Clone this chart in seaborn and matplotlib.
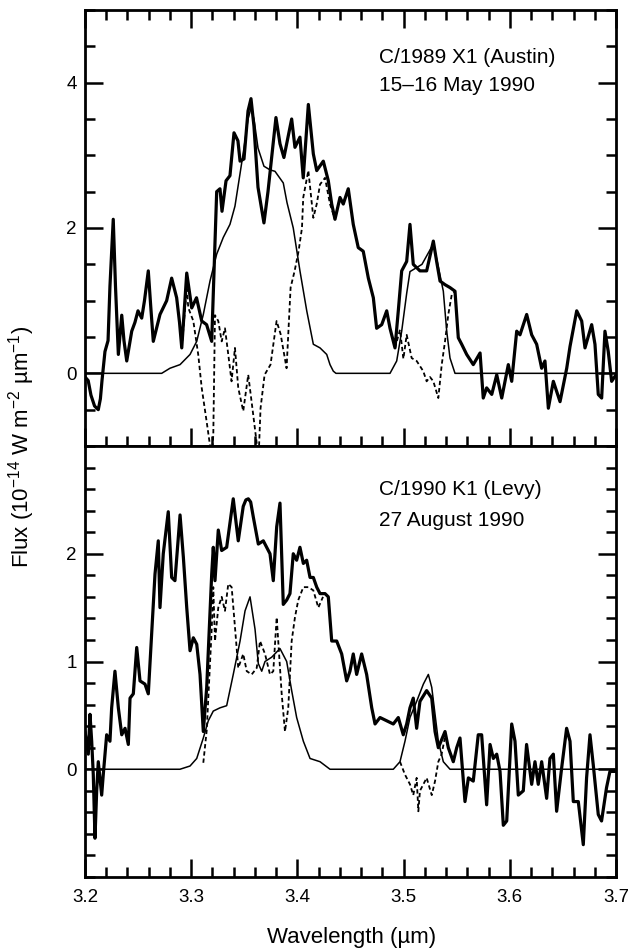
import numpy as np
import pandas as pd
import matplotlib
matplotlib.use("Agg")
import matplotlib.pyplot as plt
from matplotlib.ticker import MultipleLocator, FixedLocator
import seaborn as sns

# ---- Comet Austin (C/1989 X1), 15-16 May 1990 ----
austin_obs_wl = [3.2000, 3.2030, 3.2056, 3.2090, 3.2125, 3.2145, 3.2160, 3.2188, 3.2217, 3.2235,
                 3.2266, 3.2287, 3.2314, 3.2346, 3.2367, 3.2393, 3.2440, 3.2470, 3.2499, 3.2534,
                 3.2560, 3.2596, 3.2620, 3.2643, 3.2670, 3.2706, 3.2769, 3.2800, 3.2816, 3.2863,
                 3.2890, 3.2911, 3.2958, 3.3005, 3.3050, 3.3099, 3.3145, 3.3193, 3.3240, 3.3271,
                 3.3290, 3.3328, 3.3365, 3.3403, 3.3440, 3.3460, 3.3497, 3.3535, 3.3563, 3.3591,
                 3.3629, 3.3685, 3.3723, 3.3798, 3.3836, 3.3873, 3.3946, 3.3977, 3.4024, 3.4055,
                 3.4103, 3.4150, 3.4182, 3.4244, 3.4291, 3.4323, 3.4354, 3.4401, 3.4432, 3.4479,
                 3.4526, 3.4573, 3.4620, 3.4668, 3.4715, 3.4746, 3.4794, 3.4841, 3.4872, 3.4919,
                 3.4950, 3.4982, 3.5029, 3.5060, 3.5091, 3.5154, 3.5217, 3.5280, 3.5311, 3.5343,
                 3.5390, 3.5437, 3.5484, 3.5515, 3.5547, 3.5594, 3.5656, 3.5720, 3.5750, 3.5782,
                 3.5830, 3.5877, 3.5924, 3.5986, 3.6018, 3.6065, 3.6096, 3.6159, 3.6206, 3.6253,
                 3.6300, 3.6331, 3.6363, 3.6410, 3.6473, 3.6536, 3.6567, 3.6630, 3.6677, 3.6708,
                 3.6771, 3.6802, 3.6833, 3.6865, 3.6896, 3.6927, 3.6959, 3.7000]
austin_obs_flux = [-0.05, -0.10, -0.30, -0.45, -0.50, -0.35, -0.10, 0.30, 0.45, 1.20,
                   2.12, 1.20, 0.26, 0.80, 0.45, 0.17, 0.58, 0.70, 0.86, 0.76,
                   1.00, 1.41, 0.90, 0.44, 0.60, 0.81, 1.00, 1.20, 1.31, 1.04,
                   0.70, 0.35, 1.38, 0.90, 1.04, 0.72, 0.67, 0.44, 2.50, 2.54,
                   2.23, 2.65, 2.72, 3.31, 3.20, 2.92, 2.95, 3.61, 3.78, 3.40,
                   2.56, 2.07, 2.50, 3.52, 3.16, 2.97, 3.50, 3.11, 3.25, 2.69,
                   3.70, 3.02, 2.79, 2.92, 2.65, 2.33, 2.12, 2.42, 2.33, 2.54,
                   2.05, 1.73, 1.68, 1.31, 1.04, 0.62, 0.67, 0.86, 0.62, 0.35,
                   0.86, 1.41, 1.54, 2.05, 1.50, 1.41, 1.41, 1.82, 1.54, 1.27,
                   1.22, 1.18, 1.13, 0.49, 0.40, 0.26, 0.12, 0.28, -0.34, -0.20,
                   -0.29, -0.02, -0.34, 0.12, -0.11, 0.58, 0.53, 0.81, 0.53, 0.40,
                   0.07, 0.17, -0.48, -0.11, -0.39, 0.07, 0.37, 0.86, 0.72, 0.35,
                   0.67, 0.40, -0.29, -0.34, 0.58, 0.30, -0.11, -0.02]

austin_model_wl = [3.2000, 3.2722, 3.2800, 3.2895, 3.2989, 3.3052, 3.3114, 3.3177, 3.3240, 3.3302,
                   3.3365, 3.3412, 3.3460, 3.3497, 3.3535, 3.3563, 3.3591, 3.3629, 3.3685, 3.3742,
                   3.3789, 3.3867, 3.3902, 3.3961, 3.4024, 3.4088, 3.4150, 3.4213, 3.4276, 3.4307,
                   3.4338, 3.4363, 3.4872, 3.4935, 3.4982, 3.5029, 3.5060, 3.5117, 3.5173, 3.5230,
                   3.5280, 3.5315, 3.5374, 3.5406, 3.5437, 3.5484, 3.7000]
austin_model_flux = [0.00, 0.00, 0.07, 0.12, 0.26, 0.44, 0.81, 1.27, 1.64, 1.87,
                     2.05, 2.30, 2.75, 3.10, 3.50, 3.65, 3.50, 3.10, 2.85, 2.80,
                     2.78, 2.62, 2.35, 2.00, 1.41, 0.86, 0.40, 0.35, 0.26, 0.12,
                     0.03, 0.00, 0.00, 0.17, 0.58, 1.10, 1.40, 1.45, 1.50, 1.65,
                     1.78, 1.55, 1.13, 0.58, 0.21, 0.00, 0.00]

austin_resid_wl = [3.2911, 3.2958, 3.2973, 3.3020, 3.3066, 3.3099, 3.3145, 3.3176, 3.3193, 3.3208,
                   3.3224, 3.3255, 3.3287, 3.3318, 3.3349, 3.3380, 3.3412, 3.3443, 3.3490, 3.3537,
                   3.3584, 3.3615, 3.3635, 3.3653, 3.3691, 3.3747, 3.3804, 3.3842, 3.3898, 3.3936,
                   3.3974, 3.4011, 3.4043, 3.4055, 3.4103, 3.4150, 3.4182, 3.4213, 3.4260, 3.4307,
                   3.4354,
                   3.4919, 3.4966, 3.4998, 3.5029, 3.5076, 3.5123, 3.5154, 3.5185, 3.5217, 3.5248,
                   3.5280, 3.5327, 3.5359, 3.5390, 3.5421, 3.5453, 3.5484]
austin_resid_flux = [0.35, 1.16, 0.90, 0.72, 0.26, -0.20, -0.66, -0.98, -1.15, -0.85,
                     0.80, 0.72, 0.44, 0.62, 0.26, -0.11, 0.35, -0.20, -0.52, -0.02,
                     -0.57, -0.94, -1.15, -0.48, -0.02, 0.12, 0.72, 0.54, 0.07, 1.18,
                     1.41, 1.68, 2.00, 2.42, 2.79, 2.14, 2.33, 2.60, 2.69, 2.33,
                     2.12,
                     0.35, 0.60, 0.20, 0.53, 0.21, 0.17, 0.10, 0.03, -0.11, -0.05,
                     -0.11, -0.34, 0.12, 0.44, 0.81, 1.08, 1.13]
austin_resid_seg = [0] * 41 + [1] * 17

# ---- Comet Levy (C/1990 K1), 27 August 1990 ----
levy_obs_wl = [3.2000, 3.2031, 3.2047, 3.2063, 3.2078, 3.2094, 3.2110, 3.2125, 3.2157, 3.2172,
               3.2204, 3.2235, 3.2251, 3.2282, 3.2314, 3.2346, 3.2377, 3.2408, 3.2424, 3.2455,
               3.2487, 3.2518, 3.2565, 3.2596, 3.2628, 3.2659, 3.2690, 3.2706, 3.2737, 3.2784,
               3.2816, 3.2847, 3.2895, 3.2926, 3.2958, 3.2989, 3.3020, 3.3052, 3.3083, 3.3114,
               3.3146, 3.3193, 3.3208, 3.3224, 3.3255, 3.3287, 3.3334, 3.3396, 3.3443, 3.3490,
               3.3515, 3.3538, 3.3560, 3.3585, 3.3632, 3.3679, 3.3742, 3.3773, 3.3805, 3.3836,
               3.3867, 3.3899, 3.3930, 3.3961, 3.3993, 3.4024, 3.4056, 3.4087, 3.4119, 3.4150,
               3.4182, 3.4213, 3.4260, 3.4291, 3.4323, 3.4370, 3.4417, 3.4464, 3.4495, 3.4526,
               3.4558, 3.4605, 3.4652, 3.4700, 3.4731, 3.4778, 3.4841, 3.4903, 3.4950, 3.4997,
               3.5029, 3.5060, 3.5091, 3.5123, 3.5154, 3.5217, 3.5265, 3.5296, 3.5327, 3.5390,
               3.5421, 3.5468, 3.5500, 3.5531, 3.5578, 3.5610, 3.5656, 3.5703, 3.5735, 3.5782,
               3.5814, 3.5845, 3.5877, 3.5908, 3.5939, 3.5971, 3.6018, 3.6049, 3.6080, 3.6127,
               3.6158, 3.6206, 3.6237, 3.6268, 3.6300, 3.6347, 3.6378, 3.6410, 3.6441, 3.6488,
               3.6535, 3.6567, 3.6598, 3.6645, 3.6692, 3.6723, 3.6755, 3.6786, 3.6833, 3.6864,
               3.6911, 3.6943, 3.7000]
levy_obs_flux = [0.35, 0.14, 0.51, 0.26, -0.05, -0.64, -0.20, 0.07, -0.24, -0.05,
                 0.32, 0.26, 0.57, 0.91, 0.57, 0.32, 0.38, 0.23, 0.66, 0.70,
                 1.13, 0.82, 0.79, 0.70, 1.26, 1.81, 2.12, 1.50, 2.00, 2.39,
                 1.78, 1.75, 2.36, 1.97, 1.50, 1.10, 1.22, 1.16, 0.88, 0.35,
                 0.76, 1.81, 2.06, 1.75, 2.22, 2.03, 2.06, 2.51, 2.12, 2.44,
                 2.50, 2.51, 2.48, 2.34, 2.09, 2.12, 2.00, 1.75, 2.25, 2.47,
                 1.53, 1.57, 1.63, 2.00, 1.94, 2.06, 1.91, 1.94, 1.78, 1.78,
                 1.69, 1.63, 1.63, 1.60, 1.19, 1.19, 1.07, 0.82, 0.91, 1.07,
                 0.88, 1.07, 0.88, 0.57, 0.42, 0.48, 0.45, 0.42, 0.48, 0.32,
                 0.42, 0.57, 0.66, 0.38, 0.63, 0.73, 0.66, 0.35, 0.20, 0.35,
                 0.20, 0.07, 0.20, 0.29, -0.30, -0.08, -0.11, 0.32, 0.32, -0.33,
                 0.23, 0.10, 0.14, -0.02, -0.52, -0.48, 0.42, 0.26, -0.24, -0.20,
                 0.23, -0.14, 0.07, -0.14, 0.07, -0.27, 0.10, 0.14, -0.39, 0.01,
                 0.38, 0.26, -0.30, -0.30, -0.70, -0.08, 0.32, 0.04, -0.42, -0.48,
                 -0.17, -0.02, -0.02]

levy_model_wl = [3.2000, 3.2894, 3.2989, 3.3052, 3.3114, 3.3161, 3.3208, 3.3271, 3.3334, 3.3396,
                 3.3460, 3.3507, 3.3554, 3.3601, 3.3632, 3.3664, 3.3695, 3.3758, 3.3836, 3.3899,
                 3.3946, 3.3993, 3.4056, 3.4119, 3.4213, 3.4307, 3.4903, 3.4966, 3.5013, 3.5060,
                 3.5123, 3.5186, 3.5233, 3.5265, 3.5296, 3.5327, 3.5374, 3.5437, 3.7000]
levy_model_flux = [0.00, 0.00, 0.03, 0.10, 0.29, 0.45, 0.54, 0.57, 0.59, 0.88,
                   1.19, 1.47, 1.60, 1.30, 0.98, 0.91, 1.00, 1.04, 1.12, 1.00,
                   0.73, 0.48, 0.26, 0.10, 0.07, 0.00, 0.00, 0.07, 0.26, 0.48,
                   0.63, 0.79, 0.88, 0.76, 0.51, 0.26, 0.07, 0.00, 0.00]

levy_resid_wl = [3.3114, 3.3146, 3.3193, 3.3208, 3.3224, 3.3255, 3.3287, 3.3318, 3.3349, 3.3381,
                 3.3412, 3.3443, 3.3490, 3.3523, 3.3570, 3.3617, 3.3648, 3.3695, 3.3742, 3.3773,
                 3.3805, 3.3852, 3.3883, 3.3914, 3.3946, 3.3977, 3.4008, 3.4056, 3.4103, 3.4150,
                 3.4197, 3.4241,
                 3.4966, 3.5013, 3.5060, 3.5091, 3.5123, 3.5139, 3.5154, 3.5186, 3.5217, 3.5265,
                 3.5296, 3.5327, 3.5358, 3.5390]
levy_resid_flux = [0.06, 0.36, 1.30, 1.69, 1.19, 1.50, 1.60, 1.47, 1.72, 1.69,
                   1.32, 0.94, 1.07, 0.91, 0.88, 0.94, 1.19, 1.07, 0.88, 0.91,
                   1.41, 0.70, 0.35, 0.57, 1.19, 1.41, 1.57, 1.69, 1.69, 1.66,
                   1.50, 1.60,
                   0.07, -0.05, -0.14, -0.24, -0.08, -0.39, -0.20, -0.14, -0.08, -0.24,
                   -0.11, 0.07, 0.14, 0.30]
levy_resid_seg = [0] * 32 + [1] * 14

x_ticks = [3.2, 3.3, 3.4, 3.5, 3.6, 3.7]
x_tick_labels = ["3.2", "3.3", "3.4", "3.5", "3.6", "3.7"]
austin_y_ticks = [0, 2, 4]
levy_y_ticks = [0, 1, 2]

sns.set_theme(style="ticks")
plt.rcParams["font.family"] = ["Liberation Sans", "DejaVu Sans"]
plt.rcParams["mathtext.fontset"] = "custom"
plt.rcParams["mathtext.rm"] = "Liberation Sans"
plt.rcParams["mathtext.it"] = "Liberation Sans"
plt.rcParams["mathtext.default"] = "regular"
for key in ("text.color", "axes.labelcolor", "xtick.color", "ytick.color", "axes.edgecolor"):
    plt.rcParams[key] = "black"

fig = plt.figure(figsize=(6.28, 9.52), dpi=100)
left, right = 85 / 628, 616 / 628
ax_top = fig.add_axes([left, 1 - 446 / 952, right - left, 436 / 952])
ax_bot = fig.add_axes([left, 1 - 877 / 952, right - left, 431 / 952], sharex=ax_top)


def draw_panel(ax, obs_wl, obs_flux, mod_wl, mod_flux, res_wl, res_flux, res_seg):
    obs = pd.DataFrame({"wl": obs_wl, "flux": obs_flux})
    mod = pd.DataFrame({"wl": mod_wl, "flux": mod_flux})
    res = pd.DataFrame({"wl": res_wl, "flux": res_flux, "seg": res_seg})
    sns.lineplot(data=mod, x="wl", y="flux", ax=ax, color="black", lw=1.1,
                 estimator=None, sort=False)
    sns.lineplot(data=res, x="wl", y="flux", units="seg", ax=ax, color="black", lw=1.3,
                 estimator=None, sort=False, linestyle=(0, (2.4, 1.6)))
    sns.lineplot(data=obs, x="wl", y="flux", ax=ax, color="black", lw=2.3,
                 estimator=None, sort=False)
    ax.set_xlabel("")
    ax.set_ylabel("")
    for sp in ax.spines.values():
        sp.set_linewidth(2.0)
        sp.set_color("black")
    ax.set_xlim(3.2, 3.7)
    ax.xaxis.set_major_locator(MultipleLocator(0.1))
    ax.xaxis.set_minor_locator(MultipleLocator(0.02))
    ax.tick_params(which="both", direction="in", width=1.8, colors="black",
                   labelsize=13.5, pad=6)
    ax.tick_params(which="major", length=13)
    ax.tick_params(which="minor", length=7.5)


draw_panel(ax_top, austin_obs_wl, austin_obs_flux, austin_model_wl, austin_model_flux,
           austin_resid_wl, austin_resid_flux, austin_resid_seg)
draw_panel(ax_bot, levy_obs_wl, levy_obs_flux, levy_model_wl, levy_model_flux,
           levy_resid_wl, levy_resid_flux, levy_resid_seg)

ax_top.set_ylim(-1, 5)
ax_top.yaxis.set_major_locator(FixedLocator(austin_y_ticks))
ax_top.yaxis.set_minor_locator(MultipleLocator(0.5))
ax_top.tick_params(axis="x", which="both", top=True, bottom=True, labelbottom=False)
ax_top.tick_params(axis="y", which="both", left=True, right=True)

ax_bot.set_ylim(-1, 3)
ax_bot.yaxis.set_major_locator(FixedLocator(levy_y_ticks))
ax_bot.yaxis.set_minor_locator(MultipleLocator(0.2))
ax_bot.tick_params(axis="x", which="both", top=False, bottom=True, pad=9)
ax_bot.tick_params(axis="y", which="both", left=True, right=True)
ax_bot.set_xticks(x_ticks)
ax_bot.set_xticklabels(x_tick_labels)

ax_top.text(3.4768, 4.34, "C/1989 X1 (Austin)", fontsize=15, va="center", ha="left")
ax_top.text(3.4768, 3.96, "15\u201316 May 1990", fontsize=15, va="center", ha="left")
ax_bot.text(3.4768, 2.60, "C/1990 K1 (Levy)", fontsize=15, va="center", ha="left")
ax_bot.text(3.4768, 2.31, "27 August 1990", fontsize=15, va="center", ha="left")

fig.text(22 / 628, 1 - 447 / 952,
         "Flux (10$^{\u221214}$ W m$^{\u22122}$ \u00b5m$^{\u22121}$)",
         rotation=90, ha="center", va="center", fontsize=16)
fig.text(352 / 628, 1 - 937 / 952, "Wavelength (\u00b5m)",
         ha="center", va="center", fontsize=16)

fig.savefig("out.png", dpi=100, facecolor="white")
